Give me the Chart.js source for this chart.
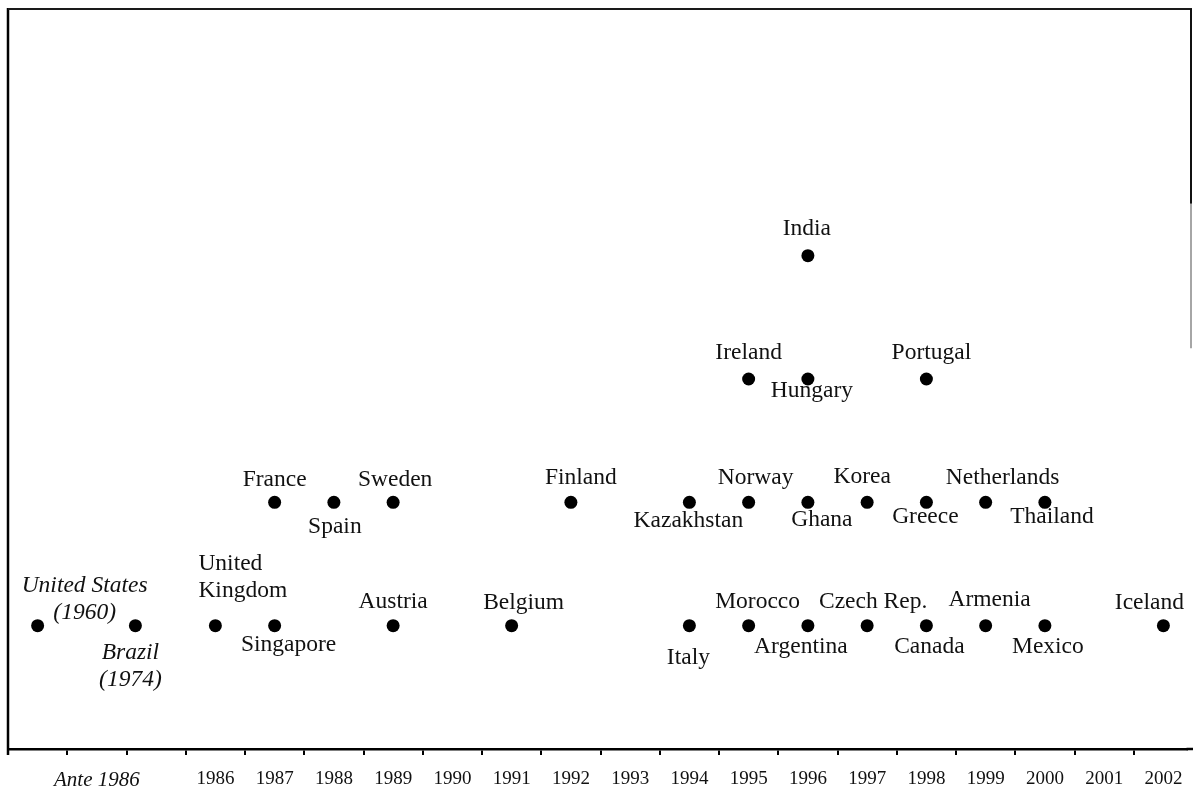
<!DOCTYPE html>
<html>
<head>
<meta charset="utf-8">
<script src="https://cdn.jsdelivr.net/npm/chart.js@4"></script>
<style>
  html, body { margin: 0; padding: 0; background: #fff; overflow: hidden; }
  #c { display: block; }
</style>
</head>
<body>
<canvas id="c" width="1193" height="792" style="width:1193px;height:792px"></canvas>
<script>
// ---- data ----
const countries = [
  "United States|(1960)", "Brazil|(1974)", "United|Kingdom", "Singapore", "Austria", "Belgium",
  "Italy", "Morocco", "Argentina", "Czech Rep.", "Canada", "Armenia", "Mexico", "Iceland",
  "France", "Spain", "Sweden", "Finland", "Kazakhstan", "Norway", "Ghana", "Korea",
  "Greece", "Netherlands", "Thailand",
  "Ireland", "Hungary", "Portugal",
  "India"
];
const years = [
  1983, 1984.65, 1986, 1987, 1989, 1991,
  1994, 1995, 1996, 1997, 1998, 1999, 2000, 2002,
  1987, 1988, 1989, 1992, 1994, 1995, 1996, 1997,
  1998, 1999, 2000,
  1995, 1996, 1998,
  1996
];
const levels = [
  1, 1, 1, 1, 1, 1,
  1, 1, 1, 1, 1, 1, 1, 1,
  2, 2, 2, 2, 2, 2, 2, 2,
  2, 2, 2,
  3, 3, 3,
  4
];
const tickValues = [1984, 1986, 1987, 1988, 1989, 1990, 1991, 1992, 1993, 1994, 1995, 1996, 1997, 1998, 1999, 2000, 2001, 2002];
const tickLabels = ["Ante 1986", "1986", "1987", "1988", "1989", "1990", "1991", "1992", "1993", "1994", "1995", "1996", "1997", "1998", "1999", "2000", "2001", "2002"];
const italicLabels = ["United States|(1960)", "Brazil|(1974)"];
const xMin = 1982.5, xMax = 2002.39;

// ---- label placement (style: pixel offsets of first line centre from the dot) ----
const labelOffsets = [
  [47, -40], [-5, 27], [-17, -62], [14, 19], [0, -24], [12, -23],
  [-1, 32], [9, -24], [-7, 21], [6, -24], [3, 21], [4, -26], [3, 21], [-14, -23],
  [0, -23], [1, 24], [2, -23], [10, -25], [-1, 18], [7, -25], [14, 17], [-5, -26],
  [-1, 14], [17, -25], [7, 14],
  [0, -26], [4, 12], [5, -26],
  [-1, -27]
];
const leftAligned = ["United|Kingdom"];

const SERIF = "'Liberation Serif', 'DejaVu Serif', serif";

const labelPlugin = {
  id: 'pointLabels',
  afterDatasetsDraw(chart) {
    const ctx = chart.ctx;
    const meta = chart.getDatasetMeta(0);
    ctx.save();
    ctx.fillStyle = '#111';
    ctx.textBaseline = 'middle';
    meta.data.forEach((pt, i) => {
      const name = countries[i];
      const lines = name.split('|');
      const italic = italicLabels.includes(name);
      ctx.font = (italic ? 'italic ' : '') + '23.5px ' + SERIF;
      const left = leftAligned.includes(name);
      ctx.textAlign = left ? 'left' : 'center';
      const [dx, dy] = labelOffsets[i];
      const lh = 27;
      lines.forEach((ln, j) => {
        ctx.fillText(ln, pt.x + dx, pt.y + dy + j * lh);
      });
    });
    ctx.restore();
  }
};

const framePlugin = {
  id: 'frame',
  afterDraw(chart) {
    const { ctx, chartArea } = chart;
    const { left, top, bottom } = chartArea;
    const right = chart.width - 1;
    const ys = chart.scales.y;
    ctx.save();
    ctx.lineCap = 'butt';
    ctx.strokeStyle = '#000';
    ctx.lineWidth = 2.5;
    ctx.beginPath(); ctx.moveTo(left, top - 1); ctx.lineTo(left, bottom + 6); ctx.stroke();
    // extend the axis line to the page edge, as in the scan
    ctx.beginPath(); ctx.moveTo(chartArea.right, bottom); ctx.lineTo(chart.width, bottom); ctx.stroke();
    ctx.lineWidth = 2.2;
    ctx.strokeStyle = '#1a1a1a';
    ctx.beginPath(); ctx.moveTo(left, top); ctx.lineTo(right, top); ctx.stroke();
    ctx.lineWidth = 2;
    ctx.strokeStyle = '#111';
    ctx.beginPath(); ctx.moveTo(right - 1, top); ctx.lineTo(right - 1, ys.getPixelForValue(4.42)); ctx.stroke();
    ctx.strokeStyle = '#888';
    ctx.lineWidth = 1.5;
    ctx.beginPath(); ctx.moveTo(right - 1, ys.getPixelForValue(4.42)); ctx.lineTo(right - 1, ys.getPixelForValue(3.25)); ctx.stroke();
    ctx.restore();
  }
};

const halfTicks = [];
for (let v = 1982.5; v <= 2001.5; v += 1) halfTicks.push(v);

new Chart(document.getElementById('c'), {
  type: 'scatter',
  data: {
    datasets: [{
      data: years.map((x, i) => ({ x: x, y: levels[i] })),
      pointRadius: 6.5,
      pointHoverRadius: 6.5,
      pointBackgroundColor: '#000',
      pointBorderWidth: 0,
      pointBorderColor: '#000'
    }]
  },
  options: {
    responsive: false,
    maintainAspectRatio: false,
    devicePixelRatio: 1,
    animation: false,
    events: [],
    layout: { padding: { left: 8, right: 2, top: 9, bottom: 0 } },
    plugins: { legend: { display: false }, tooltip: { enabled: false } },
    scales: {
      x: {
        type: 'linear',
        min: xMin,
        max: xMax,
        afterBuildTicks(scale) {
          const vals = halfTicks.concat(tickValues).sort((a, b) => a - b);
          scale.ticks = vals.map(v => ({ value: v }));
        },
        afterFit(scale) {
          scale.height = 43;
          scale.paddingLeft = 0;
          scale.paddingRight = 0;
        },
        border: { display: true, color: '#000', width: 2.5 },
        grid: {
          drawOnChartArea: false,
          drawTicks: true,
          tickLength: 6,
          lineWidth: 2,
          color: ctx => (ctx.tick && Number.isInteger(ctx.tick.value)) ? 'rgba(0,0,0,0)' : '#000'
        },
        ticks: {
          autoSkip: false,
          maxRotation: 0,
          minRotation: 0,
          padding: 13,
          color: '#111',
          font: ctx => {
            const ante = ctx.tick && ctx.tick.value === 1984;
            return { family: SERIF, size: ante ? 21 : 19, style: ante ? 'italic' : 'normal' };
          },
          callback: (value) => {
            const k = tickValues.indexOf(value);
            return k >= 0 ? tickLabels[k] : '';
          }
        }
      },
      y: {
        type: 'linear',
        min: 0,
        max: 6,
        display: false
      }
    }
  },
  plugins: [labelPlugin, framePlugin]
});
</script>
</body>
</html>
